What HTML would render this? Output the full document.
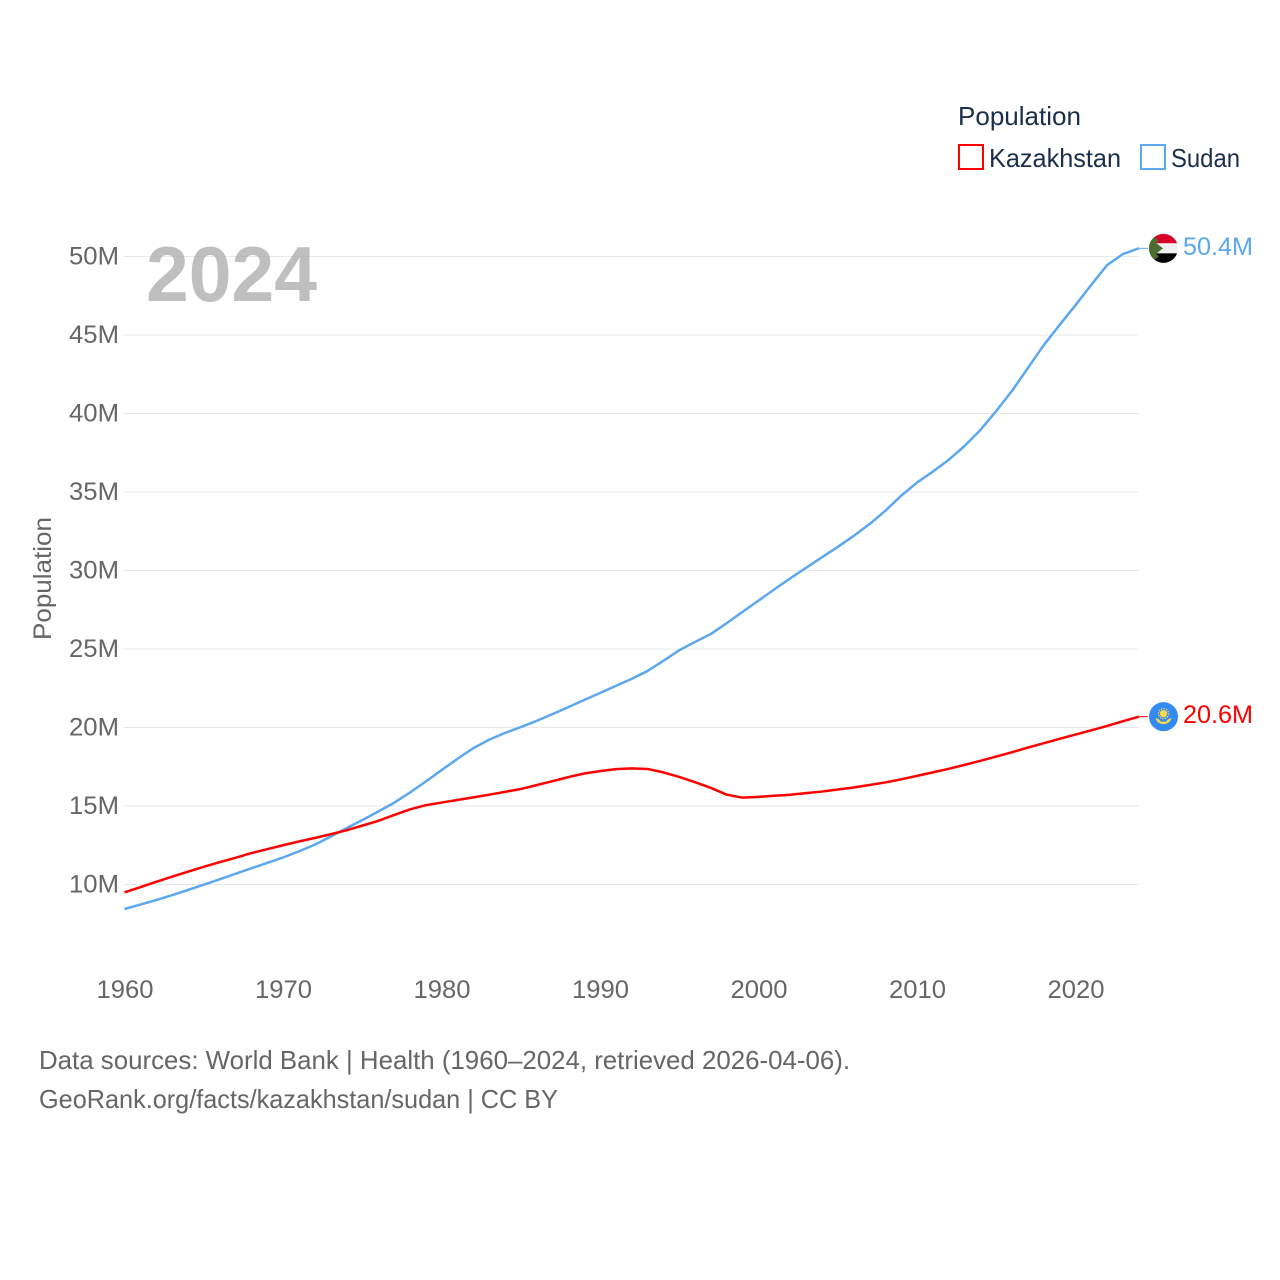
<!DOCTYPE html>
<html lang="en">
<head>
<meta charset="utf-8">
<title>Population: Kazakhstan and Sudan</title>
<style>
html,body{margin:0;padding:0;background:#fff;}
svg{display:block;font-family:"Liberation Sans",sans-serif;}
</style>
</head>
<body>
<svg id="chart" xmlns="http://www.w3.org/2000/svg" width="1280" height="1280" viewBox="0 0 1280 1280">
  <defs>
    <clipPath id="clip-sudan"><circle cx="0" cy="0" r="14.5"/></clipPath>
    <clipPath id="clip-kaz"><circle cx="0" cy="0" r="14.5"/></clipPath>
  </defs>
  <rect x="0" y="0" width="1280" height="1280" fill="#fff"/>
  <g id="grid"></g>
  <text x="146" y="301" font-size="78" font-weight="700" fill="#aaa" fill-opacity="0.75" textLength="171" lengthAdjust="spacingAndGlyphs">2024</text>
  <g id="yticks"></g>
  <g id="xticks"></g>
  <text transform="translate(51,640) rotate(-90)" font-size="25" fill="#666" textLength="123" lengthAdjust="spacingAndGlyphs">Population</text>
  <g id="series"></g>
  <g id="end-sudan">
    <g clip-path="url(#clip-sudan)">
      <rect x="-15" y="-15" width="30" height="10" fill="#d80027"/>
      <rect x="-15" y="-5" width="30" height="10" fill="#f0f0f0"/>
      <rect x="-15" y="5" width="30" height="10" fill="#000"/>
      <polygon points="-14.5,-11 -0.5,0 -14.5,11" fill="#496e2d"/>
      <polygon points="-14.5,-15 -4.5,-8 -14.5,0" fill="#496e2d"/>
      <polygon points="-14.5,15 -4.5,8 -14.5,0" fill="#496e2d"/>
    </g>
  </g>
  <g id="end-kaz">
    <g clip-path="url(#clip-kaz)">
      <rect x="-15" y="-15" width="30" height="30" fill="#338af3"/>
      <circle cx="0" cy="-3" r="3.6" fill="#ffda44"/>
      <circle cx="0" cy="-3" r="5" fill="none" stroke="#ffda44" stroke-width="1.4" stroke-dasharray="1.3 1.3"/>
      <path d="M-8,1.5 Q-4,2 -3,5 L3,5 Q4,2 8,1.5 Q6,7.5 0,7.5 Q-6,7.5 -8,1.5 Z" fill="#ffda44"/>
    </g>
  </g>
  <g>
    <text x="958" y="125" font-size="26" fill="#1a2f4b" textLength="123" lengthAdjust="spacingAndGlyphs">Population</text>
    <g>
      <rect x="959" y="145" width="24" height="24" fill="#fff" stroke="#ff0000" stroke-width="2"/>
      <text x="989" y="167" font-size="26" fill="#1a2f4b" textLength="132" lengthAdjust="spacingAndGlyphs">Kazakhstan</text>
    </g>
    <g>
      <rect x="1141" y="145" width="24" height="24" fill="#fff" stroke="#5ba7f0" stroke-width="2"/>
      <text x="1171" y="167" font-size="26" fill="#1a2f4b" textLength="69" lengthAdjust="spacingAndGlyphs">Sudan</text>
    </g>
  </g>
  <text x="39" y="1069" font-size="26" fill="#666" textLength="811" lengthAdjust="spacingAndGlyphs">Data sources: World Bank | Health (1960–2024, retrieved 2026-04-06).</text>
  <text x="39" y="1108" font-size="26" fill="#666" textLength="519" lengthAdjust="spacingAndGlyphs">GeoRank.org/facts/kazakhstan/sudan | CC BY</text>
</svg>
<script>
const firstYear = 1960;
const xTickYears = [1960, 1970, 1980, 1990, 2000, 2010, 2020];
const yTickValues = [10, 15, 20, 25, 30, 35, 40, 45, 50];
const yTickLabels = ['10M', '15M', '20M', '25M', '30M', '35M', '40M', '45M', '50M'];
const kazakhstanValues = [9.5, 9.83, 10.17, 10.5, 10.82, 11.13, 11.42, 11.7, 12.0, 12.25, 12.5, 12.74, 12.96, 13.2, 13.45, 13.75, 14.05, 14.42, 14.78, 15.05, 15.22, 15.38, 15.55, 15.72, 15.9, 16.08, 16.33, 16.58, 16.84, 17.07, 17.22, 17.35, 17.4, 17.36, 17.14, 16.85, 16.52, 16.15, 15.72, 15.53, 15.58, 15.65, 15.72, 15.82, 15.92, 16.05, 16.18, 16.34, 16.5, 16.7, 16.92, 17.14, 17.37, 17.62, 17.88, 18.15, 18.43, 18.72, 19.0, 19.28, 19.55, 19.82, 20.1, 20.4, 20.69];
const sudanValues = [8.44, 8.72, 9.01, 9.32, 9.65, 9.99, 10.33, 10.68, 11.03, 11.37, 11.72, 12.11, 12.53, 13.05, 13.58, 14.1, 14.64, 15.2, 15.85, 16.55, 17.28, 18.0, 18.68, 19.22, 19.65, 20.03, 20.42, 20.85, 21.3, 21.75, 22.2, 22.65, 23.1, 23.6, 24.25, 24.92, 25.45, 25.96, 26.65, 27.37, 28.08, 28.8, 29.5, 30.17, 30.84, 31.5, 32.2, 32.95, 33.8, 34.76, 35.6, 36.3, 37.05, 37.93, 38.95, 40.16, 41.45, 42.9, 44.36, 45.64, 46.9, 48.2, 49.46, 50.16, 50.52];
const kazakhstanEndLabel = '20.6M';
const sudanEndLabel = '50.4M';

const NS = 'http://www.w3.org/2000/svg';
const KAZ_COLOR = '#ff0000';
const SUDAN_COLOR = '#5ba7f0';
const PLOT_LEFT = 124;
const PLOT_RIGHT = 1139;
function xScale(year) { return 124.5 + (year - 1960) * 15.85; }
function yScale(value) { return 884.5 - (value - 10) * 15.7; }
function makeEl(tag) { return document.createElementNS(NS, tag); }

const gridGroup = document.getElementById('grid');
const yGroup = document.getElementById('yticks');
const xGroup = document.getElementById('xticks');
const seriesGroup = document.getElementById('series');

yTickValues.forEach(function (v, i) {
  const line = makeEl('line');
  
  
  line.setAttribute('x1', PLOT_LEFT);
  line.setAttribute('x2', PLOT_RIGHT);
  line.setAttribute('y1', yScale(v));
  line.setAttribute('y2', yScale(v));
  line.setAttribute('stroke', '#e8e8e8');
  line.setAttribute('stroke-width', '1');
  gridGroup.appendChild(line);

  const label = makeEl('text');
  
  
  label.setAttribute('x', 69);
  label.setAttribute('y', yScale(v) + 8);
  label.setAttribute('font-size', '25');
  label.setAttribute('fill', '#666');
  label.setAttribute('textLength', '50');
  label.setAttribute('lengthAdjust', 'spacingAndGlyphs');
  label.textContent = yTickLabels[i];
  yGroup.appendChild(label);
});

xTickYears.forEach(function (year) {
  const label = makeEl('text');
  
  
  label.setAttribute('x', xScale(year) - 28);
  label.setAttribute('y', 998);
  label.setAttribute('font-size', '25');
  label.setAttribute('fill', '#666');
  label.setAttribute('textLength', '57');
  label.setAttribute('lengthAdjust', 'spacingAndGlyphs');
  label.textContent = String(year);
  xGroup.appendChild(label);
});

function drawSeries(values, color, seriesName, endLabel, markerId) {
  const pts = values.map(function (v, i) {
    return xScale(firstYear + i).toFixed(2) + ',' + yScale(v).toFixed(2);
  }).join(' ');
  const line = makeEl('polyline');
  
  
  line.setAttribute('points', pts);
  line.setAttribute('fill', 'none');
  line.setAttribute('stroke', color);
  line.setAttribute('stroke-width', '2.5');
  line.setAttribute('stroke-linejoin', 'round');
  seriesGroup.appendChild(line);

  const lastX = xScale(firstYear + values.length - 1);
  const lastY = yScale(values[values.length - 1]);
  const connector = makeEl('line');
  
  
  connector.setAttribute('x1', lastX);
  connector.setAttribute('x2', lastX + 9);
  connector.setAttribute('y1', lastY);
  connector.setAttribute('y2', lastY);
  connector.setAttribute('stroke', color);
  connector.setAttribute('stroke-width', '1');
  seriesGroup.appendChild(connector);

  document.getElementById(markerId).setAttribute('transform', 'translate(1163.5,' + lastY + ')');

  const label = makeEl('text');
  
  
  label.setAttribute('x', 1183);
  label.setAttribute('y', lastY + 6.5);
  label.setAttribute('font-size', '25');
  label.setAttribute('fill', color);
  label.setAttribute('textLength', '70');
  label.setAttribute('lengthAdjust', 'spacingAndGlyphs');
  label.textContent = endLabel;
  seriesGroup.appendChild(label);
}

drawSeries(sudanValues, SUDAN_COLOR, 'sudan', sudanEndLabel, 'end-sudan');
drawSeries(kazakhstanValues, KAZ_COLOR, 'kazakhstan', kazakhstanEndLabel, 'end-kaz');
</script>
</body>
</html>
